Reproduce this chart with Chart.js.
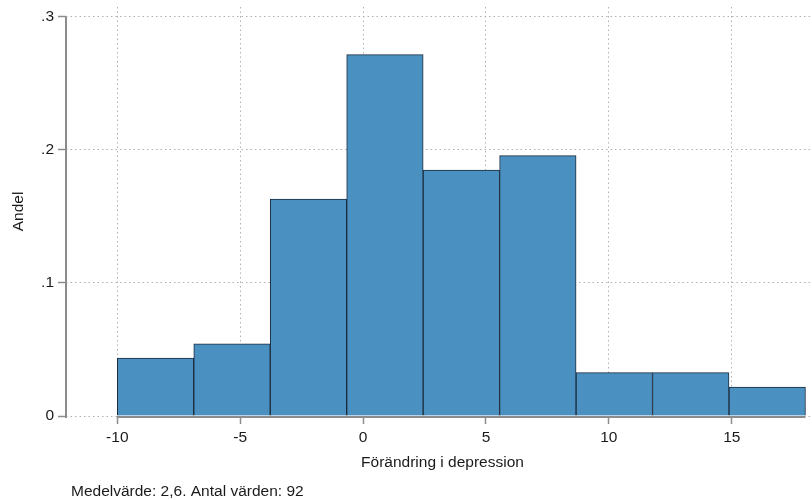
<!DOCTYPE html>
<html>
<head>
<meta charset="utf-8">
<script src="https://cdn.jsdelivr.net/npm/chart.js@4/dist/chart.umd.min.js"></script>
<style>
  body { margin: 0; overflow: hidden; background: #fff; }
</style>
</head>
<body>
<canvas id="hist" width="830" height="500"></canvas>
<script>
// histogram bins (centres of the 9 bins from -10 to 18) and share of observations
var binCenters = [-8.444, -5.333, -2.222, 0.889, 4.0, 7.111, 10.222, 13.333, 16.444];
var shares = [0.0435, 0.0543, 0.1630, 0.2717, 0.1848, 0.1957, 0.0326, 0.0326, 0.0217];
var binLow = -10, binHigh = 18;

var xTicks = [-10, -5, 0, 5, 10, 15];
var yTicks = [0, 0.1, 0.2, 0.3];
var yTickLabels = ['0', '.1', '.2', '.3'];

var xTitle = 'Förändring i depression';
var yTitle = 'Andel';
var footnote = 'Medelvärde: 2,6. Antal värden: 92';

var font = "'Liberation Sans', Arial, sans-serif";
var textColor = '#1a1a1a';

var points = [];
for (var i = 0; i < binCenters.length; i++) {
    points.push({ x: binCenters[i], y: shares[i] });
}

// stata-like axis lines that only span the tick / data range, plus the note
var axisPlugin = {
    id: 'axisLines',
    afterDatasetsDraw: function (chart) {
        var ctx = chart.ctx;
        var xs = chart.scales.x, ys = chart.scales.y;
        ctx.save();
        ctx.strokeStyle = '#8c8c8c';
        ctx.lineWidth = 2;
        ctx.beginPath();
        var y0 = ys.getPixelForValue(0) + 1;
        ctx.moveTo(xs.getPixelForValue(binLow), y0);
        ctx.lineTo(xs.getPixelForValue(binHigh), y0);
        ctx.stroke();
        ctx.beginPath();
        var x0 = chart.chartArea.left;
        ctx.moveTo(x0, ys.getPixelForValue(0) + 2);
        ctx.lineTo(x0, ys.getPixelForValue(yTicks[yTicks.length - 1]));
        ctx.stroke();
        ctx.restore();
    },
    afterDraw: function (chart) {
        var ctx = chart.ctx;
        ctx.save();
        ctx.font = '15.5px ' + font;
        ctx.fillStyle = textColor;
        ctx.textBaseline = 'alphabetic';
        ctx.fillText(footnote, 71, 496);
        ctx.restore();
    }
};

var ctx = document.getElementById('hist').getContext('2d');

var graphic = new Chart(ctx, {
    type: 'bar',
    data: {
        datasets: [{
            label: yTitle,
            data: points,
            backgroundColor: '#4a91c2',
            borderColor: '#1c2b3c',
            borderWidth: 1,
            barPercentage: 1,
            categoryPercentage: 1
        }]
    },
    options: {
        responsive: false,
        animation: false,
        devicePixelRatio: 1,
        layout: { padding: { top: 7, right: 11, left: 0, bottom: 0 } },
        plugins: {
            legend: { display: false },
            tooltip: { enabled: false }
        },
        scales: {
            x: {
                type: 'linear',
                offset: false,
                min: -12.087,
                max: 18.55,
                afterBuildTicks: function (scale) {
                    scale.ticks = xTicks.map(function (v) { return { value: v }; });
                },
                afterFit: function (scale) {
                    scale.height = 84;
                    scale.paddingLeft = 0;
                    scale.paddingRight = 0;
                },
                grid: {
                    offset: false,
                    color: '#b0b0b0',
                    lineWidth: 1,
                    tickLength: 8,
                    tickColor: '#8c8c8c',
                    tickWidth: 1.5,
                    tickBorderDash: []
                },
                border: { display: false, dash: [1.5, 3] },
                ticks: {
                    autoSkip: false,
                    maxRotation: 0,
                    padding: 4,
                    color: textColor,
                    font: { family: font, size: 15.5 },
                    callback: function (value) { return String(value); }
                },
                title: {
                    display: true,
                    text: xTitle,
                    color: textColor,
                    font: { family: font, size: 15.5 },
                    padding: { top: 0, bottom: 28 }
                }
            },
            y: {
                min: 0,
                max: 0.3075,
                afterBuildTicks: function (scale) {
                    scale.ticks = yTicks.map(function (v) { return { value: v }; });
                },
                afterFit: function (scale) {
                    scale.width = 66;
                    scale.paddingTop = 0;
                    scale.paddingBottom = 0;
                },
                grid: {
                    color: '#b0b0b0',
                    lineWidth: 1,
                    tickLength: 8,
                    tickColor: '#8c8c8c',
                    tickWidth: 1.5,
                    tickBorderDash: []
                },
                border: { display: false, dash: [1.5, 3] },
                ticks: {
                    padding: 4,
                    color: textColor,
                    font: { family: font, size: 15.5 },
                    callback: function (value, index) { return yTickLabels[yTicks.indexOf(value)]; }
                },
                title: {
                    display: true,
                    text: yTitle,
                    color: textColor,
                    font: { family: font, size: 15.5 },
                    padding: { top: 9, bottom: 0 }
                }
            }
        }
    },
    plugins: [axisPlugin]
});
</script>
</body>
</html>
